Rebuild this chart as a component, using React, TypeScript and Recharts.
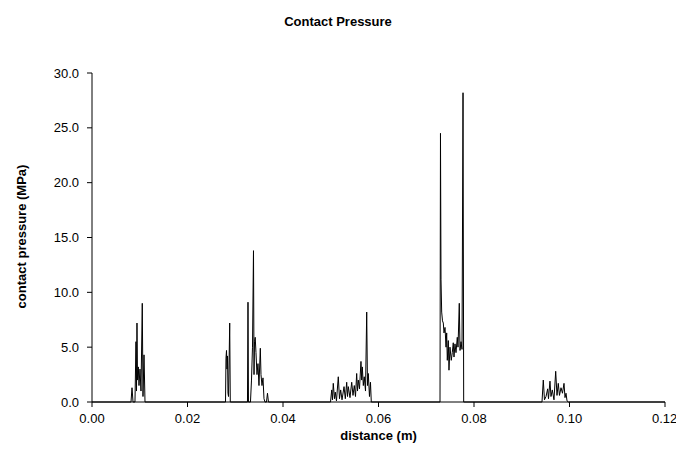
import React from 'react';
import { LineChart, Line, XAxis, YAxis } from 'recharts';

// distance along the contact (m)
const DISTANCE = [
    0,
    0.00817, 0.00838, 0.00859, 0.00900, 0.00921, 0.00932, 0.00942, 0.00953, 0.00970, 0.00984,
    0.01005, 0.01026, 0.01053, 0.01068, 0.01089, 0.01110,
    0.02796, 0.02806, 0.02817, 0.02827, 0.02838, 0.02848, 0.02859, 0.02884, 0.02896,
    0.03256, 0.03267, 0.03277, 0.03319, 0.03340, 0.03361, 0.03382, 0.03393, 0.03403, 0.03418,
    0.03434, 0.03455, 0.03476, 0.03497, 0.03525, 0.03539, 0.03560, 0.03581, 0.03602, 0.03623,
    0.03654, 0.03675, 0.03696,
    0.04995, 0.05020, 0.05036, 0.05053, 0.05078, 0.05095, 0.05120, 0.05158, 0.05183, 0.05208,
    0.05236, 0.05278, 0.05305, 0.05334, 0.05351, 0.05368, 0.05403, 0.05439, 0.05466, 0.05493,
    0.05518, 0.05543, 0.05560, 0.05577, 0.05602, 0.05633, 0.05648, 0.05661, 0.05682, 0.05702,
    0.05728, 0.05753, 0.05769, 0.05786, 0.05811, 0.05832, 0.05849,
    0.07288, 0.07298, 0.07309, 0.07323, 0.07340, 0.07357, 0.07372, 0.07393, 0.07414, 0.07428,
    0.07441, 0.07462, 0.07476, 0.07497, 0.07524, 0.07545, 0.07566, 0.07581, 0.07602, 0.07623,
    0.07650, 0.07665, 0.07692, 0.07707, 0.07728, 0.07749, 0.07770, 0.07784,
    0.09424, 0.09451, 0.09476, 0.09508, 0.09543, 0.09560, 0.09591, 0.09612, 0.09640, 0.09675,
    0.09711, 0.09738, 0.09765, 0.09790, 0.09822, 0.09853, 0.09885, 0.09906, 0.09927, 0.09948,
    0.09975,
    0.12,
];

// contact pressure (MPa)
const PRESSURE = [
    0,
    0, 1.3, 0, 0, 5.5, 1.0, 7.2, 2.0, 3.2, 1.5,
    3.0, 1.0, 9.0, 0.5, 4.3, 0,
    0, 4.0, 4.7, 3.0, 4.2, 0.8, 0.5, 7.2, 0,
    0, 9.1, 0, 0, 2.0, 5.0, 13.8, 2.5, 5.5, 5.9,
    4.5, 2.5, 3.5, 1.5, 4.9, 2.5, 1.5, 2.2, 0.3, 0,
    0, 0.8, 0,
    0, 1.1, 0.2, 1.7, 0.3, 0.9, 0.1, 2.3, 0.3, 1.1,
    0.2, 1.4, 0.3, 1.8, 0.5, 1.4, 0.4, 1.8, 0.6, 1.5,
    0.5, 2.6, 1.0, 2.0, 1.2, 3.7, 2.0, 3.2, 1.5, 2.3,
    1.0, 8.2, 1.5, 2.6, 0.5, 1.8, 0,
    0, 24.5, 11.2, 8.2, 7.4, 7.2, 6.3, 6.8, 5.0, 6.3,
    3.8, 5.6, 2.9, 5.0, 3.8, 4.5, 5.4, 4.1, 5.3, 4.5,
    5.9, 5.0, 9.0, 4.7, 5.5, 4.8, 28.2, 0,
    0, 2.0, 0.2, 0.5, 1.2, 0.3, 1.9, 0.5, 1.1, 0.2,
    2.8, 0.6, 1.7, 0.6, 1.3, 0.8, 1.7, 0.4, 0.8, 0.1,
    0,
    0,
];

const X_TICKS = [0, 0.02, 0.04, 0.06, 0.08, 0.1, 0.12];
const Y_TICKS = [0, 5, 10, 15, 20, 25, 30];

const data = DISTANCE.map((d, i) => ({ d, p: PRESSURE[i] }));

const font = '"Liberation Sans", Arial, sans-serif';

const App = () => {
    return (
        <div style={{ position: 'absolute', left: 0, top: 0, width: 676, height: 459, background: '#fff', fontFamily: font }}>
            <div style={{ position: 'absolute', left: 0, width: 676, top: 14, textAlign: 'center', fontWeight: 'bold', fontSize: 13 }}>
                Contact Pressure
            </div>
            <div style={{ position: 'absolute', left: 92, width: 573, top: 428, textAlign: 'center', fontWeight: 'bold', fontSize: 13 }}>
                distance (m)
            </div>
            <div
                style={{
                    position: 'absolute', left: 21, top: 237, width: 300, marginLeft: -150, marginTop: -8,
                    textAlign: 'center', fontWeight: 'bold', fontSize: 13, transform: 'rotate(-90deg)',
                }}
            >
                contact pressure (MPa)
            </div>
            <LineChart width={676} height={459} data={data} margin={{ top: 73, right: 11, bottom: 27, left: 32 }}>
                <XAxis
                    dataKey="d"
                    type="number"
                    domain={[0, 0.12]}
                    ticks={X_TICKS}
                    tickFormatter={(v: number) => v.toFixed(2)}
                    height={30}
                    stroke="#000"
                    tickSize={5}
                    tickMargin={7}
                    tick={{ fill: '#000', fontSize: 13, fontFamily: font }}
                    allowDataOverflow
                />
                <YAxis
                    type="number"
                    domain={[0, 30]}
                    ticks={Y_TICKS}
                    tickFormatter={(v: number) => v.toFixed(1)}
                    width={60}
                    stroke="#000"
                    tickSize={5}
                    tickMargin={8}
                    tick={{ fill: '#000', fontSize: 13, fontFamily: font }}
                />
                <Line
                    type="linear"
                    dataKey="p"
                    stroke="#000"
                    strokeWidth={1}
                    dot={false}
                    isAnimationActive={false}
                />
            </LineChart>
        </div>
    );
};

export default App;
